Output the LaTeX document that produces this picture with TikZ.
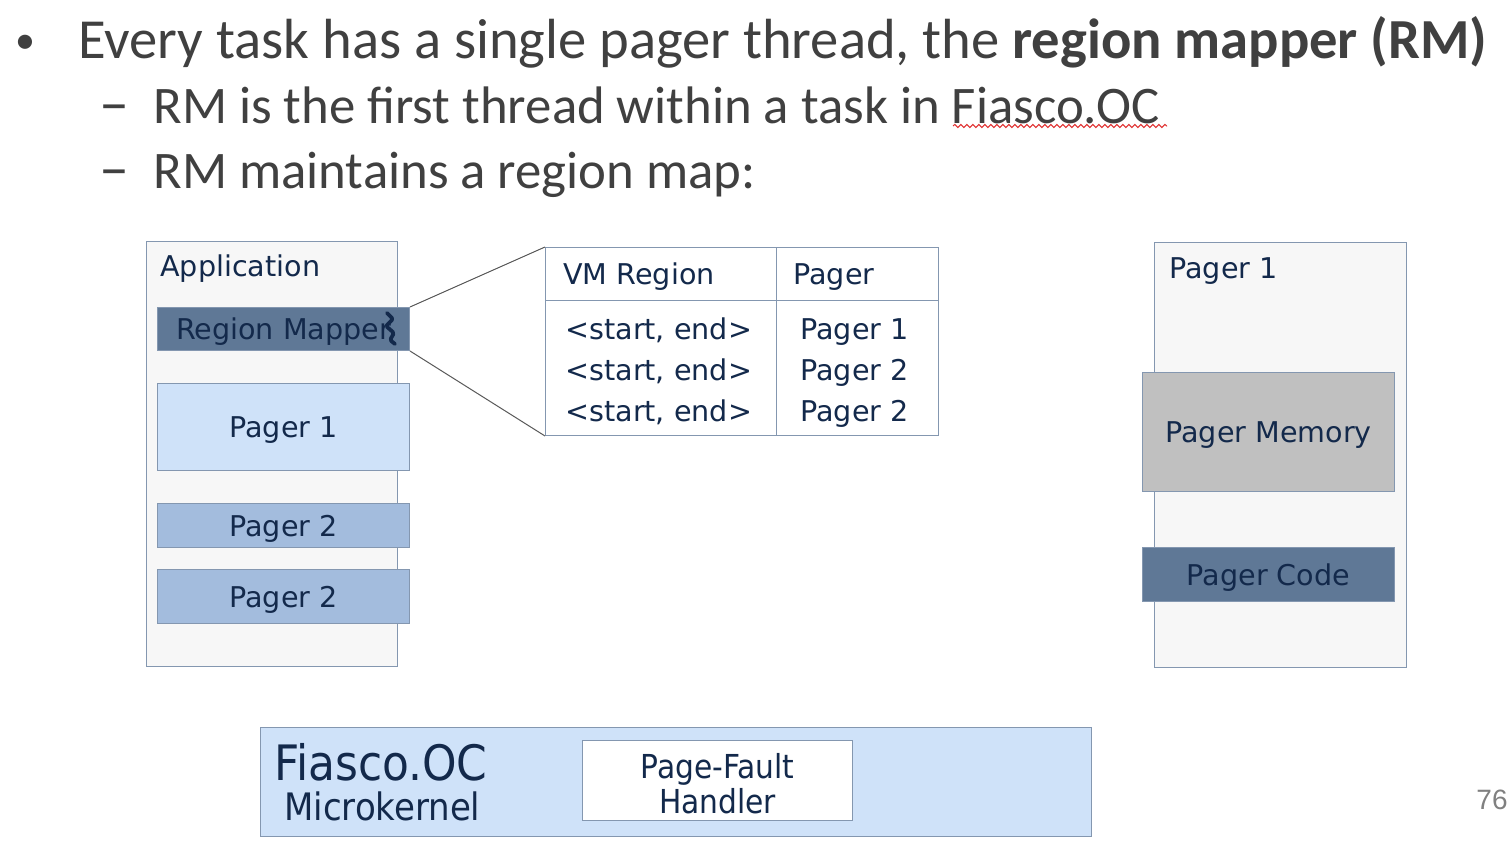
\documentclass[tikz,border=0pt]{standalone}
\usepackage{fontspec}
\setmainfont{Carlito}
\newfontfamily\diagfont{DejaVu Sans}
\newfontfamily\kernfont{DejaVu Sans Condensed}
\newfontfamily\numfont{Liberation Sans}
\usetikzlibrary{positioning,decorations.pathmorphing}
\definecolor{textgray}{HTML}{404040}
\definecolor{navy}{HTML}{13294B}
\definecolor{framegray}{HTML}{8497B0}
\definecolor{panelgray}{HTML}{F7F7F7}
\definecolor{rmblue}{HTML}{5F7896}
\definecolor{lightblue}{HTML}{CFE2F9}
\definecolor{midblue}{HTML}{A3BCDD}
\definecolor{memgray}{HTML}{C0C0C0}
\definecolor{spellred}{HTML}{E03030}
\tikzset{%
  bullet/.style={anchor=base west,inner sep=0pt,text=textgray,font=\fontsize{26.4}{30}\selectfont},
  block/.style={draw=framegray,line width=0.5pt,anchor=north west,inner sep=0pt,text depth=0pt,text=navy,font=\diagfont\fontsize{14.3}{17}\selectfont},
  txt/.style={inner sep=0pt,text depth=0pt,text=navy,font=\diagfont\fontsize{14.3}{17}\selectfont},
  kern/.style={inner sep=0pt,text depth=0pt,text=navy,font=\kernfont},
  zoomline/.style={draw=black!65,line width=0.5pt},
  tabline/.style={draw=framegray,line width=0.5pt},
}

\begin{document}
\begin{tikzpicture}[x=0.5pt,y=-0.5pt]
  \fill[white] (0,0) rectangle (1508,846);
  \useasboundingbox (0,0) rectangle (1508,846);

  % bullet text
  \node[bullet,font=\fontsize{20}{24}\selectfont] (dot) at (15,53) {\textbullet};
  \node[bullet,font=\fontsize{28.3}{32}\selectfont] (line1) at (78,58) {Every task has a single pager thread, the \textbf{region mapper (RM)}};
  \node[bullet,font=\fontsize{30}{32}\selectfont] (dash1) at (99,123) {--};
  \node[bullet] (line2) at (153,123) {RM is the first thread within a task in Fiasco.OC};
  \node[bullet,font=\fontsize{30}{32}\selectfont] (dash2) at (99,188) {--};
  \node[bullet] (line3) at (153,188) {RM maintains a region map:};
  \draw[spellred,line width=0.5pt,decorate,decoration={snake,amplitude=0.8pt,segment length=3pt}] (953,126) -- (1167,126);

  % application
  \node[block,fill=panelgray,minimum width=125.5pt,minimum height=212.5pt] (app) at (146,241) {};
  \node[txt,anchor=west] (applbl) at (160,266) {Application};
  \node[block,fill=rmblue,minimum width=126pt,minimum height=21.5pt] (rm) at (157,307) {Region Mapper};
  \node[block,fill=lightblue,minimum width=126pt,minimum height=43.5pt] (pg1) at (157,383) {Pager 1};
  \node[block,fill=midblue,minimum width=126pt,minimum height=22pt] (pg2a) at (157,503) {Pager 2};
  \node[block,fill=midblue,minimum width=126pt,minimum height=27pt] (pg2b) at (157,569) {Pager 2};
  \draw[navy,line width=1.9pt,line cap=round,line join=round,rounded corners=0.8pt]
    ([shift={(-23,6)}]rm.north east) -- ([shift={(-17,12)}]rm.north east)
    -- ([shift={(-24,19)}]rm.north east) -- ([shift={(-16,26)}]rm.north east)
    -- ([shift={(-20,33)}]rm.north east) -- ([shift={(-15,37)}]rm.north east);

  % region map
  \node[block,fill=white,minimum width=196.5pt,minimum height=94pt] (map) at (545,247) {};
  \draw[tabline] (545,300) -- (938,300);
  \draw[tabline] (776,247) -- (776,435);
  \node[txt,anchor=west] (hdreg) at (563,274) {VM Region};
  \node[txt,anchor=west] (hdpg) at (793,274) {Pager};
  \foreach \y/\p [count=\i] in {329/1,370/2,411/2} {
    \node[txt,anchor=west] (reg\i) at (565,\y) {<start, end>};
    \node[txt,anchor=west] (pgr\i) at (800,\y) {Pager \p};
  }
  \draw[zoomline] (rm.north east) -- (map.north west);
  \draw[zoomline] (rm.south east) -- (map.south west);

  % pager task
  \node[block,fill=panelgray,minimum width=126pt,minimum height=212.5pt] (pager) at (1154,242) {};
  \node[txt,anchor=west] (pagerlbl) at (1169,268) {Pager 1};
  \node[block,fill=memgray,minimum width=126pt,minimum height=59.5pt] (mem) at (1142,372) {Pager Memory};
  \node[block,fill=rmblue,minimum width=126pt,minimum height=27pt] (code) at (1142,547) {Pager Code};

  % kernel
  \node[block,fill=lightblue,minimum width=415.5pt,minimum height=54.5pt] (kernel) at (260,727) {};
  \node[kern,anchor=west,font=\kernfont\fontsize{24.4}{26}\selectfont] (fiasco) at (274,762) {Fiasco.OC};
  \node[kern,anchor=west,font=\kernfont\fontsize{18.9}{20}\selectfont] (micro) at (284,806) {Microkernel};
  \node[block,fill=white,minimum width=135pt,minimum height=40pt] (pfh) at (582,740) {};
  \node[kern,align=center,font=\kernfont\fontsize{16.5}{17.5}\selectfont,yshift=-1.5pt] (pfhlbl) at (pfh) {Page-Fault\\Handler};

  \node[inner sep=0pt,anchor=east,text=black!50,font=\numfont\fontsize{14}{16}\selectfont] (pagenum) at (1508,800) {76};
\end{tikzpicture}
\end{document}
